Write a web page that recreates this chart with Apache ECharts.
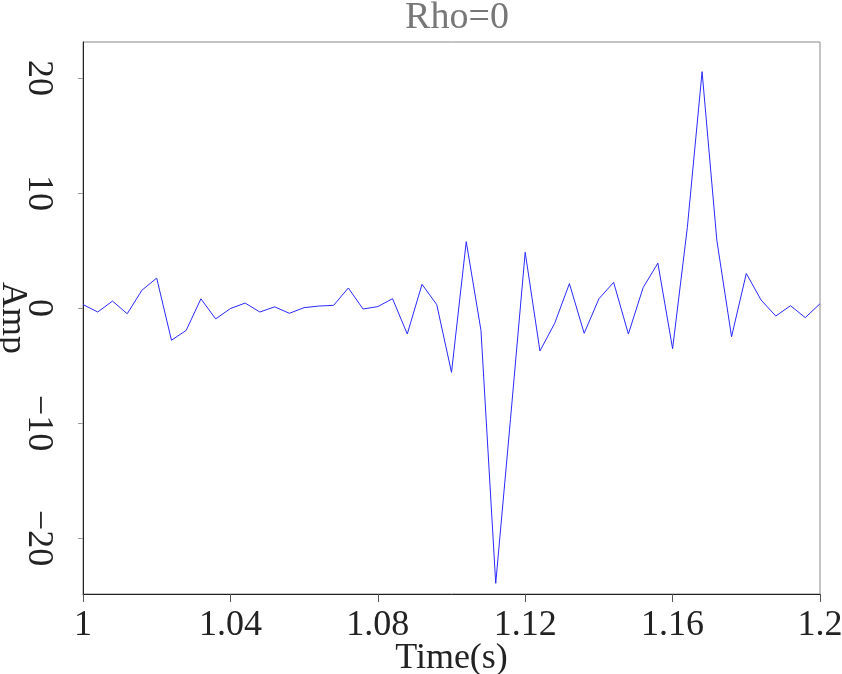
<!DOCTYPE html>
<html><head><meta charset="utf-8">
<script src="https://cdn.jsdelivr.net/npm/echarts@6/dist/echarts.min.js"></script>
<style>html,body{margin:0;padding:0;background:#fff}#c{width:842px;height:674px}</style>
</head><body><div id="c"></div>
<script>
const t0 = 1.0;
const dt = 0.004;
const amp = [0.3, -0.35, 0.6, -0.5, 1.55, 2.6, -2.8, -1.95, 0.8, -0.95,
  -0.05, 0.43, -0.35, 0.1, -0.46, 0.03, 0.17, 0.23, 1.74, -0.09,
  0.12, 0.81, -2.26, 2.06, 0.29, -5.6, 5.77, -1.95, -23.94, -9.7,
  4.84, -3.74, -1.33, 2.12, -2.2, 0.8, 2.23, -2.26, 1.77, 3.9,
  -3.54, 7.0, 20.55, 5.9, -2.5, 3.0, 0.7, -0.7, 0.2, -0.84, 0.37];
const xTicks = [1, 1.04, 1.08, 1.12, 1.16, 1.2];
const yTicks = [-20, -10, 0, 10, 20];
const titleText = 'Rho=0';
const xName = 'Time(s)';
const yName = 'Amp';

const data = amp.map((v, i) => [+(t0 + i * dt).toFixed(3), v]);
const font = "'Liberation Serif', 'DejaVu Serif', serif";
const chart = echarts.init(document.getElementById('c'), null, {renderer: 'canvas'});
chart.setOption({
  animation: false,
  backgroundColor: '#fff',
  title: {text: titleText, left: 452, textAlign: 'center', top: -6,
    textStyle: {fontFamily: font, fontSize: 38, fontWeight: 'normal', color: '#777'}},
  grid: {left: 83, right: 22, top: 42, bottom: 80, show: true, borderColor: '#888', borderWidth: 1,
    containLabel: false, outerBoundsMode: 'none'},
  xAxis: {type: 'value', min: 1, max: 1.2,
    name: xName, nameLocation: 'middle', nameGap: 47, nameMoveOverlap: false,
    nameTextStyle: {fontFamily: font, fontSize: 36, color: '#222'},
    axisLine: {show: true, onZero: false, lineStyle: {color: '#222', width: 1}},
    axisTick: {show: true, length: 8, inside: false, customValues: xTicks, lineStyle: {color: '#555'}},
    axisLabel: {customValues: xTicks, margin: 14, fontFamily: font, fontSize: 36, color: '#222',
      formatter: v => String(+v.toFixed(2))},
    splitLine: {show: false}},
  yAxis: {type: 'value', min: -24.87, max: 23.13,
    name: yName, nameLocation: 'middle', nameGap: 53, nameRotate: -90, nameMoveOverlap: false,
    nameTextStyle: {fontFamily: font, fontSize: 36, color: '#222'},
    axisLine: {show: true, onZero: false, lineStyle: {color: '#222', width: 1}},
    axisTick: {show: true, length: 5, customValues: yTicks, lineStyle: {color: '#999'}},
    axisLabel: {customValues: yTicks, rotate: -90, margin: 27, fontFamily: font, fontSize: 36, color: '#222',
      formatter: v => (v < 0 ? '\u2212' + Math.abs(v) : String(v))},
    splitLine: {show: false}},
  series: [{type: 'line', data: data, showSymbol: false, symbol: 'none',
    lineStyle: {color: '#2a2aff', width: 1}, clip: true}]
});
</script></body></html>
